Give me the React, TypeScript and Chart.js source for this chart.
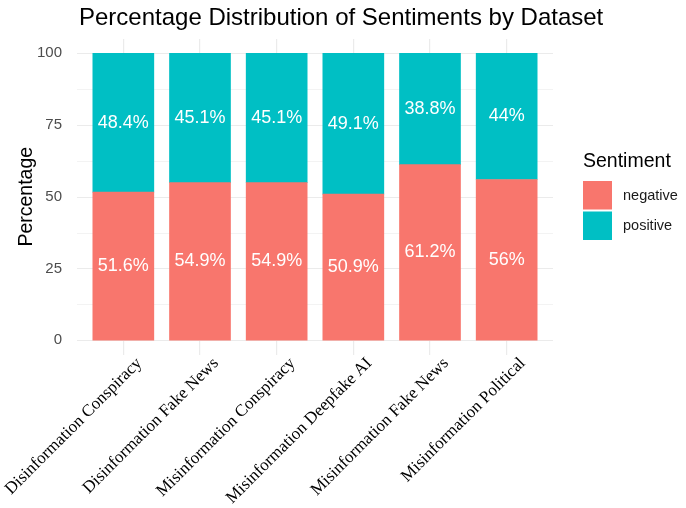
import React, { useEffect, useRef } from "react";
import { Chart, registerables } from "chart.js";

Chart.register(...registerables);

const datasetNames = [
  "Disinformation Conspiracy",
  "Disinformation Fake News",
  "Misinformation Conspiracy",
  "Misinformation Deepfake AI",
  "Misinformation Fake News",
  "Misinformation Political",
];
const negativePct = [51.6, 54.9, 54.9, 50.9, 61.2, 56];
const positivePct = [48.4, 45.1, 45.1, 49.1, 38.8, 44];
const sentimentLabels = ["negative", "positive"];
const sentimentColors = ["#F8766D", "#00BFC4"];
const yMajorTicks = [0, 25, 50, 75, 100];
const yMinorTicks = [12.5, 37.5, 62.5, 87.5];

const chartTitle = "Percentage Distribution of Sentiments by Dataset";
const yTitle = "Percentage";
const legendTitle = "Sentiment";

const SANS = "'Liberation Sans', Arial, sans-serif";
const SERIF = "'Liberation Serif', 'Times New Roman', serif";
const GRID = "#EBEBEB";

const fmtPct = (v: number) => `${+v.toFixed(1)}%`;

// horizontal panel grid, extended a little past the outer bars
const panelGrid = {
  id: "panelGrid",
  beforeDatasetsDraw(chart: any) {
    const { ctx, chartArea } = chart;
    const y = chart.scales.y;
    const ext = 8;
    ctx.save();
    ctx.strokeStyle = GRID;
    const draw = (v: number, w: number) => {
      const py = Math.round(y.getPixelForValue(v)) + 0.5;
      ctx.lineWidth = w;
      ctx.beginPath();
      ctx.moveTo(chartArea.left - ext, py);
      ctx.lineTo(chartArea.right + ext, py);
      ctx.stroke();
    };
    yMinorTicks.forEach((v) => draw(v, 0.6));
    yMajorTicks.forEach((v) => draw(v, 1.2));
    ctx.restore();
  },
};

// value labels, title, axis title and legend
const annotations = {
  id: "annotations",
  afterDatasetsDraw(chart: any) {
    const { ctx, chartArea } = chart;
    ctx.save();
    ctx.fillStyle = "#FFFFFF";
    ctx.font = `18px ${SANS}`;
    ctx.textAlign = "center";
    ctx.textBaseline = "middle";
    chart.data.datasets.forEach((ds: any, di: number) => {
      const meta = chart.getDatasetMeta(di);
      meta.data.forEach((bar: any, i: number) => {
        const cy = (bar.y + bar.base) / 2;
        ctx.fillText(fmtPct(ds.data[i]), bar.x, cy);
      });
    });

    // title
    ctx.fillStyle = "#000000";
    ctx.font = `24px ${SANS}`;
    ctx.textAlign = "left";
    ctx.textBaseline = "alphabetic";
    ctx.fillText(chartTitle, chartArea.left - 6, 25);

    // y axis title
    ctx.save();
    ctx.translate(32, (chartArea.top + chartArea.bottom) / 2);
    ctx.rotate(-Math.PI / 2);
    ctx.textAlign = "center";
    ctx.textBaseline = "alphabetic";
    ctx.font = `19.5px ${SANS}`;
    ctx.fillText(yTitle, 0, 0);
    ctx.restore();

    // legend
    const lx = chartArea.right + 38;
    ctx.font = `19.5px ${SANS}`;
    ctx.fillStyle = "#000000";
    ctx.textAlign = "left";
    ctx.textBaseline = "alphabetic";
    ctx.fillText(legendTitle, lx, 167);
    sentimentLabels.forEach((lab, i) => {
      const ky = 181 + i * 30.5;
      ctx.fillStyle = sentimentColors[i];
      ctx.fillRect(lx, ky, 29, 28.5);
      ctx.fillStyle = "#1A1A1A";
      ctx.font = `14.5px ${SANS}`;
      ctx.textBaseline = "middle";
      ctx.fillText(lab, lx + 40, ky + 14.5);
    });
    ctx.restore();
  },
};

export default function App() {
  const canvasRef = useRef<HTMLCanvasElement | null>(null);

  useEffect(() => {
    const canvas = canvasRef.current;
    if (!canvas) return;
    const chart = new Chart(canvas, {
      type: "bar",
      data: {
        labels: datasetNames,
        datasets: [
          {
            label: sentimentLabels[0],
            data: negativePct,
            backgroundColor: sentimentColors[0],
            borderWidth: 0,
          },
          {
            label: sentimentLabels[1],
            data: positivePct,
            backgroundColor: sentimentColors[1],
            borderWidth: 0,
          },
        ],
      },
      options: {
        responsive: false,
        animation: false,
        devicePixelRatio: 1,
        layout: { padding: { top: 39, right: 141, left: 0, bottom: 0 } },
        plugins: {
          legend: { display: false },
          title: { display: false },
          tooltip: { enabled: false },
        },
        datasets: {
          bar: { barThickness: 61 },
        },
        scales: {
          x: {
            stacked: true,
            offset: true,
            grid: {
              offset: false,
              color: GRID,
              lineWidth: 1.2,
              drawTicks: false,
            },
            border: { display: false },
            ticks: {
              minRotation: 45,
              maxRotation: 45,
              autoSkip: false,
              padding: -1,
              labelOffset: 16,
              color: "#000000",
              font: { family: SERIF, size: 17 },
            },
            afterFit(scale: any) {
              scale.height = 153.5;
              scale.paddingLeft = 0;
              scale.paddingRight = 0;
            },
          },
          y: {
            stacked: true,
            min: -5,
            max: 105,
            grid: { display: false },
            border: { display: false },
            afterBuildTicks(scale: any) {
              scale.ticks = yMajorTicks.map((v) => ({ value: v }));
            },
            ticks: {
              padding: 15,
              color: "#4D4D4D",
              font: { family: SANS, size: 15 },
              callback: (v: any) => String(v),
            },
            afterFit(scale: any) {
              scale.width = 85;
              scale.paddingTop = 0;
              scale.paddingBottom = 0;
            },
          },
        },
      },
      plugins: [panelGrid, annotations],
    });
    return () => chart.destroy();
  }, []);

  return (
    <div style={{ position: "fixed", left: 0, top: 0, width: 686, height: 508, background: "#FFFFFF" }}>
      <canvas ref={canvasRef} width={686} height={508} />
    </div>
  );
}
